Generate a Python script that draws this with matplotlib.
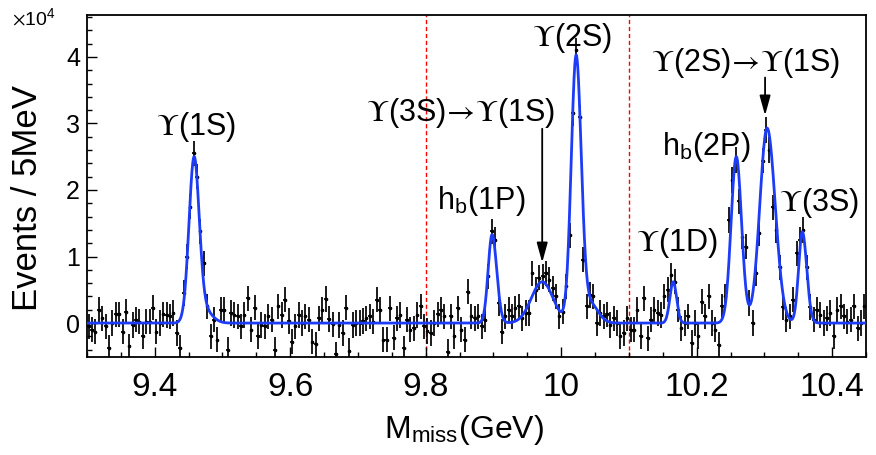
import numpy as np
import matplotlib
matplotlib.use("Agg")
import matplotlib.pyplot as plt
from matplotlib.ticker import MultipleLocator

# ---------------- data (values in units of 10^4 events) ----------------
bin_low = 9.30
bin_width = 0.005
counts = [
    -0.05, -0.10, -0.13, 0.20, 0.07, -0.05, -0.37, 0.00, 0.13, 0.13,
    -0.13, 0.17, -0.35, -0.03, 0.05, 0.02, -0.20, 0.02, 0.02, 0.23,
    -0.13, 0.00, 0.13, 0.12, 0.10, 0.15, -0.15, -0.37, 0.45, 1.00,
    1.75, 2.55, 2.20, 1.38, 0.90, 0.25, -0.20, 0.05, -0.25, 0.20,
    0.20, -0.40, 0.15, 0.12, 0.10, -0.05, 0.12, 0.37, -0.10, 0.23,
    -0.20, -0.03, -0.05, 0.10, 0.05, -0.40, 0.25, 0.12, 0.35, 0.03,
    -0.28, -0.05, 0.12, 0.00, 0.10, 0.05, -0.28, -0.32, 0.07, 0.20,
    0.36, 0.06, -0.02, -0.47, -0.03, -0.15, 0.23, -0.42, -0.03, 0.00,
    0.00, 0.03, 0.07, 0.10, 0.02, 0.35, 0.20, -0.25, -0.25, 0.22,
    -0.22, 0.07, 0.12, -0.38, 0.05, -0.10, -0.08, 0.12, 0.25, -0.05,
    -0.12, -0.15, 0.00, 0.13, 0.20, 0.10, -0.43, 0.10, -0.20, 0.22,
    -0.10, -0.25, 0.47, 0.10, 0.07, 0.10, -0.05, 0.05, 0.70, 1.38,
    1.25, 0.30, -0.13, 0.10, 0.20, 0.10, 0.22, 0.25, 0.07, 0.15,
    0.15, 0.75, 0.50, 0.68, 0.70, 0.75, 0.65, 0.52, 0.40, 0.10,
    0.17, 0.55, 1.32, 3.15, 4.10, 3.09, 0.95, 0.25, 0.42, 0.40,
    0.00, 0.15, 0.10, 0.13, -0.03, 0.07, 0.00, -0.20, -0.15, 0.07,
    -0.10, -0.10, 0.20, -0.20, 0.37, -0.23, 0.05, 0.20, 0.15, 0.12,
    0.40, 0.50, 0.72, 0.62, 0.20, -0.08, 0.00, 0.10, -0.30, 0.00,
    -0.20, 0.32, 0.10, 0.40, 0.00, -0.10, -0.33, 0.25, 0.40, 1.55,
    2.15, 2.45, 1.83, 1.30, 1.15, 0.30, 0.00, 0.75, 1.35, 2.44,
    2.90, 2.60, 1.74, 1.40, 0.84, 0.24, 0.05, 0.10, 0.35, 1.05,
    1.25, 1.40, 0.84, 0.24, 0.05, 0.20, 0.12, 0.00, 0.07, 0.15,
    -0.20, 0.20, 0.25, 0.10, 0.02, 0.05, 0.25, -0.08, 0.00, 0.25,
]
count_err = 0.19

# fit components (centre GeV, height 1e4, left/right width GeV)
peak_centers = [9.458, 9.472, 9.898, 9.972, 10.022, 10.042, 10.1654, 10.2585, 10.304, 10.356]
peak_heights = [2.40, 0.20, 1.33, 0.62, 3.95, 0.30, 0.62, 2.50, 2.93, 1.37]
peak_sigma_left = [0.0075, 0.012, 0.0058, 0.016, 0.0072, 0.012, 0.005, 0.0077, 0.0108, 0.0055]
peak_sigma_right = [0.0075, 0.012, 0.0068, 0.016, 0.0075, 0.012, 0.005, 0.0078, 0.012, 0.0065]

x_ticks = [9.4, 9.6, 9.8, 10.0, 10.2, 10.4]
x_tick_labels = ["9.4", "9.6", "9.8", "10", "10.2", "10.4"]
y_ticks = [0, 1, 2, 3, 4]
y_tick_labels = ["0", "1", "2", "3", "4"]
region_lines = [9.8, 10.1]

# ---------------- style ----------------
plt.rcParams["font.family"] = ["Liberation Sans", "DejaVu Sans"]
plt.rcParams["mathtext.fontset"] = "stix"

fig = plt.figure(figsize=(8.76, 4.55), dpi=100)
W, H = 876, 455
ax = fig.add_axes([87 / W, 1 - 357 / H, (866 - 87) / W, (357 - 15) / H])

centers = bin_low + bin_width * (np.arange(len(counts)) + 0.5)
ax.errorbar(centers, counts, yerr=count_err, xerr=bin_width / 2, fmt="o",
            ms=1.6, color="black", ecolor="black", elinewidth=1.25,
            capsize=0, zorder=2)

xf = np.linspace(9.3, 10.45, 3000)
yf = np.zeros_like(xf)
for c, h, sl, sr in zip(peak_centers, peak_heights, peak_sigma_left, peak_sigma_right):
    s = np.where(xf < c, sl, sr)
    yf += h * np.exp(-0.5 * ((xf - c) / s) ** 2)
ax.plot(xf, yf, color="#1c3cf8", lw=2.0, zorder=3)

for xv in region_lines:
    ax.axvline(xv, color="red", lw=1.0, ls=(0, (3.0, 2.0)), zorder=1)

ax.set_xlim(9.3, 10.45)
ax.set_ylim(-0.51, 4.63)
ax.set_xticks(x_ticks)
ax.set_xticklabels(x_tick_labels, fontsize=24)
ax.set_yticks(y_ticks)
ax.set_yticklabels(y_tick_labels, fontsize=18)
ax.xaxis.set_minor_locator(MultipleLocator(0.05))
ax.yaxis.set_minor_locator(MultipleLocator(0.2))
ax.tick_params(which="both", direction="in", top=False, right=False, width=1.0)
ax.tick_params(which="major", length=7)
ax.tick_params(which="minor", length=3.5)
ax.tick_params(axis="x", pad=11)
ax.tick_params(axis="y", pad=5)
for sp in ax.spines.values():
    sp.set_linewidth(1.3)

fig.text(28 / W, 1 - 198 / H, "Events / 5MeV", rotation=90, fontsize=25,
         ha="center", va="center")
fig.text(464 / W, 1 - 430 / H, r"M$_{\mathregular{miss}}$(GeV)", fontsize=23,
         ha="center", va="center")
fig.text(12 / W, 1 - 8 / H, r"$\times$10$^{\mathregular{4}}$", fontsize=14,
         ha="left", va="top")

fs = 22
labels = [
    (r"$\Upsilon$(1S)", 9.4609, 2.94),
    (r"$\Upsilon$(3S)$\!\rightarrow\!\Upsilon$(1S)", 9.8508, 3.15),
    (r"h$_{\mathregular{b}}$(1P)", 9.8818, 1.83),
    (r"$\Upsilon$(2S)", 10.016, 4.29),
    (r"$\Upsilon$(1D)", 10.171, 1.21),
    (r"h$_{\mathregular{b}}$(2P)", 10.214, 2.64),
    (r"$\Upsilon$(2S)$\!\rightarrow\!\Upsilon$(1S)", 10.273, 3.91),
    (r"$\Upsilon$(3S)", 10.380, 1.80),
]
for t, xv, yv in labels:
    ax.text(xv, yv, t, fontsize=fs, ha="center", va="center", zorder=4)

arrows = [(9.972, 2.92, 0.91), (10.301, 3.69, 3.12)]
for xv, y0, y1 in arrows:
    ax.annotate("", xy=(xv, y1), xytext=(xv, y0),
                arrowprops=dict(arrowstyle="-|>,head_length=0.8,head_width=0.22",
                                color="black", lw=1.3, mutation_scale=15,
                                shrinkA=0, shrinkB=0), zorder=4)

fig.savefig("out.png", dpi=100)
